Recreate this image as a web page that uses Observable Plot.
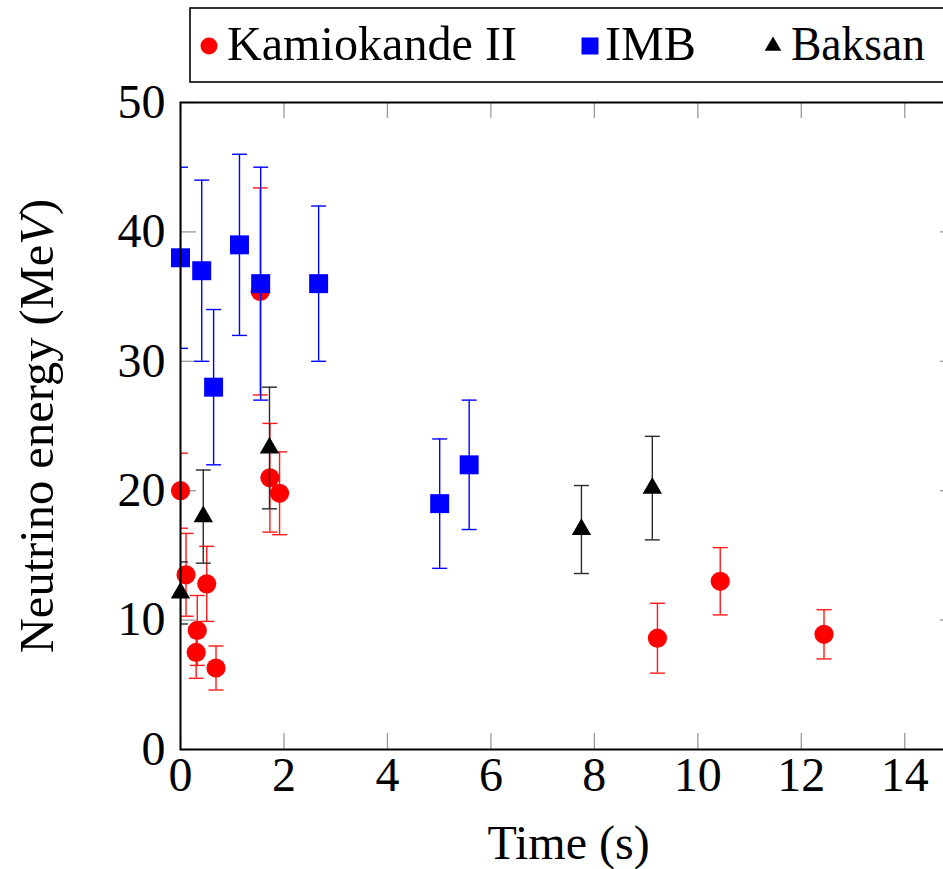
<!DOCTYPE html>
<html><head><meta charset="utf-8">
<script src="https://cdn.jsdelivr.net/npm/d3@7"></script>
<script src="https://cdn.jsdelivr.net/npm/@observablehq/plot@0.6"></script>
<style>
html,body{margin:0;padding:0;overflow:hidden;background:#fff;}
#wrap{position:relative;width:943px;height:869px;overflow:hidden;}
#wrap svg{display:block;max-width:none !important;}
#legend{position:absolute;left:0;top:0;}
#wrap svg text{font-family:"Liberation Serif","DejaVu Serif",serif !important;}
</style></head><body><div id="wrap"></div>
<script>
// ---- data ----
const seriesNames = ["Kamiokande II", "IMB", "Baksan"];
const seriesColors = ["#ff0000", "#0000ff", "#000000"];
const barColors = ["#ff1a1a", "#0000ff", "#2a2a2a"];

const kamTime   = [0, 0.107, 0.303, 0.324, 0.507, 0.686, 1.541, 1.728, 1.915, 9.219, 10.433, 12.439];
const kamEnergy = [20.0, 13.5, 7.5, 9.2, 12.8, 6.3, 35.4, 21.0, 19.8, 8.6, 13.0, 8.9];
const kamError  = [2.9, 3.2, 2.0, 2.7, 2.9, 1.7, 8.0, 4.2, 3.2, 2.7, 2.6, 1.9];

const imbTime   = [0, 0.41, 0.64, 1.14, 1.55, 2.67, 5.01, 5.58];
const imbEnergy = [38, 37, 28, 39, 36, 36, 19, 22];
const imbError  = [7, 7, 6, 7, 9, 6, 5, 5];

const baksanTime   = [0, 0.44, 1.72, 7.75, 9.12];
const baksanEnergy = [12.1, 18.0, 23.3, 17.0, 20.2];
const baksanError  = [2.4, 3.6, 4.7, 3.4, 4.0];

const xTicks = [0, 2, 4, 6, 8, 10, 12, 14];
const yTicks = [0, 10, 20, 30, 40, 50];
const xLabel = "Time (s)";
const yLabel = "Neutrino energy (MeV)";

// ---- build rows ----
function rows(t, e, err) { return t.map((d, i) => ({t: d, e: e[i], err: err[i]})); }
const series = [
  {rows: rows(kamTime, kamEnergy, kamError), symbol: "circle", r: 9.6},
  {rows: rows(imbTime, imbEnergy, imbError), symbol: "square", r: 10.7},
  {rows: rows(baksanTime, baksanEnergy, baksanError), symbol: "triangle", r: 7.2}
];

const W = 957, H = 869, mL = 180, mR = 1, mT = 102, mB = 120;
const plotW = W - mL - mR, plotH = H - mT - mB;
const tickLen = 16, tickColor = "#9a9a9a";
const FONT = "Liberation Serif";

const capSymbol = {draw(ctx) { ctx.moveTo(-7.5, 0); ctx.lineTo(7.5, 0); }};

const marks = [];
marks.push(Plot.tickX(xTicks, {x: d => d, stroke: tickColor, strokeWidth: 1.3, insetTop: plotH - tickLen}));
marks.push(Plot.tickX(xTicks, {x: d => d, stroke: tickColor, strokeWidth: 1.3, insetBottom: plotH - tickLen}));
marks.push(Plot.tickY(yTicks, {y: d => d, stroke: tickColor, strokeWidth: 1.3, insetRight: plotW - tickLen}));
marks.push(Plot.tickY(yTicks, {y: d => d, stroke: tickColor, strokeWidth: 1.3, insetLeft: plotW - tickLen}));

series.forEach((s, i) => {
  const c = seriesColors[i], bc = barColors[i];
  marks.push(Plot.ruleX(s.rows, {x: "t", y1: d => d.e - d.err, y2: d => d.e + d.err, stroke: bc, strokeWidth: 1.4, clip: true}));
  marks.push(Plot.dot(s.rows, {x: "t", y: d => d.e + d.err, symbol: capSymbol, fill: "none", stroke: bc, strokeWidth: 1.4, clip: true}));
  marks.push(Plot.dot(s.rows, {x: "t", y: d => d.e - d.err, symbol: capSymbol, fill: "none", stroke: bc, strokeWidth: 1.4, clip: true}));
  marks.push(Plot.dot(s.rows, {x: "t", y: "e", symbol: s.symbol, r: s.r, fill: c, stroke: "none"}));
});

marks.push(Plot.frame({stroke: "#000", strokeWidth: 2}));
marks.push(Plot.axisX(xTicks, {tickSize: 0, tickPadding: 7, label: null, fontSize: 48}));
marks.push(Plot.axisY(yTicks, {tickSize: 0, tickPadding: 15, label: null, fontSize: 48}));
marks.push(Plot.text([xLabel], {frameAnchor: "bottom", dy: 109, lineAnchor: "bottom", fontSize: 48}));
marks.push(Plot.text([yLabel], {frameAnchor: "left", dx: -128, rotate: -90, textAnchor: "middle", lineAnchor: "bottom", fontSize: 48.5}));

const chart = Plot.plot({
  width: W, height: H,
  marginLeft: mL, marginRight: mR, marginTop: mT, marginBottom: mB,
  x: {domain: [0, 15]},
  y: {domain: [0, 50]},
  style: {fontFamily: FONT, fontSize: "48px", color: "#000", background: "#fff", overflow: "visible", maxWidth: "none"},
  marks
});
const wrap = document.getElementById("wrap");
wrap.appendChild(chart);

d3.select(chart).selectAll("text").filter(function() { return this.textContent === yLabel; }).each(function() {
  const t = d3.select(this);
  t.text(null);
  t.append("tspan").text("Neutrino energy (Me");
  t.append("tspan").attr("font-style", "italic").text("V");
  t.append("tspan").text(")");
});

// ---- legend (above the plot area) ----
const leg = d3.select(wrap).append("svg").attr("id", "legend").attr("width", 943).attr("height", 90);
leg.append("rect").attr("x", 190).attr("y", 8).attr("width", 800).attr("height", 74)
  .attr("fill", "#fff").attr("stroke", "#000").attr("stroke-width", 1.6);
const legItems = [
  {mx: 209, tx: 227, tw: 290},
  {mx: 590, tx: 605, tw: 91},
  {mx: 773, tx: 791, tw: 134}
];
const my = 46;
legItems.forEach((it, i) => {
  const g = leg.append("g");
  if (i === 0) g.append("circle").attr("cx", it.mx).attr("cy", my).attr("r", 8.5).attr("fill", seriesColors[0]);
  if (i === 1) g.append("rect").attr("x", it.mx - 8.5).attr("y", my - 8.5).attr("width", 17).attr("height", 17).attr("fill", seriesColors[1]);
  if (i === 2) g.append("path").attr("d", d3.symbol(d3.symbolTriangle, 120)()).attr("transform", `translate(${it.mx},${my})`).attr("fill", seriesColors[2]);
  g.append("text").attr("x", it.tx).attr("y", 60).attr("font-size", 48)
    .attr("textLength", it.tw).attr("lengthAdjust", "spacingAndGlyphs").text(seriesNames[i]);
});
</script></body></html>
